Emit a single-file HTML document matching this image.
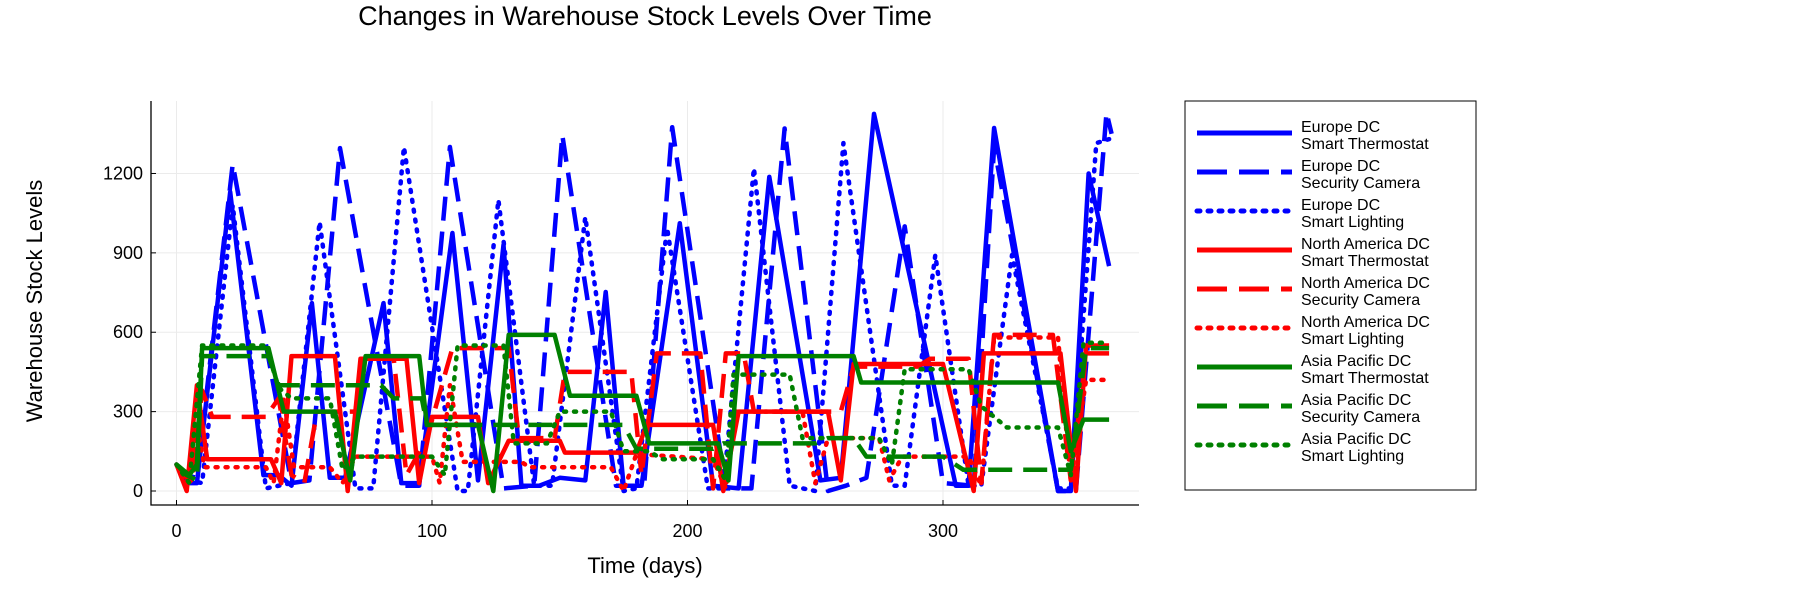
<!DOCTYPE html>
<html><head><meta charset="utf-8"><style>
body{margin:0;background:#fff;font-family:"Liberation Sans",sans-serif}
svg text{font-family:"Liberation Sans",sans-serif}
</style></head><body>
<svg id="chart" width="1800" height="600" xmlns="http://www.w3.org/2000/svg">
<text x="645" y="25" font-size="27" text-anchor="middle">Changes in Warehouse Stock Levels Over Time</text>
<g id="grid"></g>
<g id="axes"></g>
<g id="series"></g>
<g id="legend"></g>
<text x="645" y="573" font-size="22" text-anchor="middle">Time (days)</text>
<text x="0" y="0" font-size="22" text-anchor="middle" transform="translate(42,301) rotate(-90)">Warehouse Stock Levels</text>
</svg>
<script>
const xTicks=[0,100,200,300];
const yTicks=[0,300,600,900,1200];
const seriesNames=["Europe DC|Smart Thermostat","Europe DC|Security Camera","Europe DC|Smart Lighting","North America DC|Smart Thermostat","North America DC|Security Camera","North America DC|Smart Lighting","Asia Pacific DC|Smart Thermostat","Asia Pacific DC|Security Camera","Asia Pacific DC|Smart Lighting"];
const euThermo=[[0,100],[4,30],[8,30],[21,1130],[34,60],[40,60],[45,20],[53,710],[60,50],[66,50],[81,710],[88,30],[95,30],[108,975],[118,40],[128,930],[135,20],[142,20],[150,50],[160,40],[168,752],[175,20],[182,20],[197,1012],[210,20],[220,10],[232,1187],[252,40],[260,50],[273,1425],[305,20],[310,20],[320,1372],[345,0],[350,0],[357,1200],[365,850]];
const euCamera=[[0,100],[3,60],[8,50],[22,1235],[45,30],[52,40],[64,1296],[88,20],[95,20],[107,1300],[128,10],[140,20],[151,1345],[172,20],[183,20],[194,1375],[215,10],[225,10],[238,1370],[255,0],[262,20],[270,50],[285,1000],[300,30],[312,20],[320,1300],[345,0],[352,0],[364,1430],[366,1350]];
const euLight=[[0,100],[5,40],[10,30],[22,1080],[35,10],[45,30],[56,1017],[70,10],[77,10],[89,1300],[110,0],[114,0],[126,1100],[140,20],[147,20],[160,1035],[175,0],[180,10],[192,994],[208,10],[214,10],[226,1220],[240,20],[250,0],[261,1315],[280,20],[285,20],[297,892],[310,20],[315,20],[327,892],[345,10],[350,10],[360,1315],[365,1330]];
const naThermo=[[0,100],[4,0],[8,400],[12,120],[37,120],[41,30],[45,510],[62,510],[67,0],[72,500],[90,500],[95,30],[100,280],[118,280],[122,30],[130,190],[150,190],[152,145],[180,145],[184,250],[210,250],[214,0],[220,300],[255,300],[260,40],[265,480],[300,480],[312,0],[316,520],[346,520],[352,0],[356,550],[365,550]];
const naCamera=[[0,100],[3,60],[6,30],[10,380],[14,280],[35,280],[40,350],[45,60],[50,30],[55,300],[70,300],[73,500],[85,500],[90,60],[98,200],[108,540],[130,540],[134,200],[148,200],[152,450],[178,450],[182,60],[188,520],[205,520],[210,10],[215,520],[222,520],[226,300],[260,300],[265,470],[290,470],[295,500],[310,500],[315,30],[320,590],[343,590],[350,40],[356,520],[365,520]];
const naLight=[[0,100],[5,20],[8,250],[11,90],[35,90],[38,30],[42,350],[46,90],[60,90],[65,30],[70,130],[100,130],[103,30],[107,400],[112,110],[135,110],[138,90],[170,90],[175,0],[180,140],[210,120],[215,10],[219,300],[245,300],[250,30],[255,200],[275,200],[279,40],[284,130],[310,130],[315,20],[320,580],[345,580],[350,40],[356,420],[365,420]];
const apThermo=[[0,100],[5,60],[8,100],[10,540],[36,540],[42,300],[62,300],[68,40],[74,510],[95,510],[98,250],[118,250],[124,0],[130,590],[148,590],[154,360],[180,360],[185,180],[212,180],[216,40],[220,510],[265,510],[268,410],[345,410],[350,150],[355,270],[365,270]];
const apCamera=[[0,100],[4,60],[8,40],[10,510],[36,510],[40,400],[80,400],[85,350],[96,350],[98,250],[175,250],[180,160],[210,160],[214,180],[250,180],[255,200],[265,200],[270,130],[300,130],[308,80],[350,80],[356,540],[365,540]];
const apLight=[[0,100],[5,30],[10,550],[35,550],[40,390],[45,350],[60,350],[65,80],[70,130],[100,130],[105,60],[110,550],[128,550],[132,180],[145,180],[150,300],[170,300],[175,150],[185,150],[190,120],[210,120],[215,40],[218,440],[240,440],[245,200],[275,200],[280,100],[285,460],[310,460],[315,320],[325,240],[345,240],[350,60],[355,560],[365,560]];
const allSeries=[euThermo,euCamera,euLight,naThermo,naCamera,naLight,apThermo,apCamera,apLight];
const colors=["#0000ff","#0000ff","#0000ff","#ff0000","#ff0000","#ff0000","#008000","#008000","#008000"];
const dashes=["none","24,11","2,8","none","24,11","2,8","none","24,11","2,8"];
const X0=151,X1=1139,Y0=101,Y1=505;
function xs(d){return 176.5+d*2.555;}
function ys(v){return 491-v*0.2646;}
const NS="http://www.w3.org/2000/svg";
function mk(tag,attrs,parent){const e=document.createElementNS(NS,tag);for(const k in attrs)e.setAttribute(k,attrs[k]);parent.appendChild(e);return e;}
const grid=document.getElementById('grid'),axes=document.getElementById('axes'),ser=document.getElementById('series'),leg=document.getElementById('legend');
xTicks.forEach(t=>{
 const g=mk('line',{x1:xs(t),x2:xs(t),y1:Y0,y2:Y1,stroke:"#ebebeb","stroke-width":1},grid);
 
 
 const tk=mk('line',{x1:xs(t),x2:xs(t),y1:Y1,y2:Y1-5,stroke:"#000"},axes);
 
 
 const tx=mk('text',{x:xs(t),y:Y1+32,"font-size":18,"text-anchor":"middle"},axes);
 tx.textContent=t;
 
 
});
yTicks.forEach(t=>{
 const g=mk('line',{x1:X0,x2:X1,y1:ys(t),y2:ys(t),stroke:"#ebebeb","stroke-width":1},grid);
 
 
 const tk=mk('line',{x1:X0,x2:X0+5,y1:ys(t),y2:ys(t),stroke:"#000"},axes);
 
 
 const tx=mk('text',{x:X0-8,y:ys(t)+6,"font-size":18,"text-anchor":"end"},axes);
 tx.textContent=t;
 
 
});
const ax=mk('path',{d:`M${X0},${Y0}V${Y1}H${X1}`,fill:"none",stroke:"#000","stroke-width":1.3},axes);


allSeries.forEach((s,i)=>{
 const d=s.map((p,j)=>(j?'L':'M')+xs(p[0]).toFixed(1)+','+ys(p[1]).toFixed(1)).join('');
 const p=mk('path',{d:d,fill:"none",stroke:colors[i],"stroke-width":4.5,"stroke-dasharray":dashes[i],"stroke-linecap":dashes[i]=="2,8"?"round":"butt","stroke-linejoin":"round"},ser);
 
 
});
const box=mk('rect',{x:1185,y:101,width:291,height:389,fill:"#fff",stroke:"#000","stroke-width":1},leg);


seriesNames.forEach((n,i)=>{
 const y=124+i*39;
 const l=mk('line',{x1:1197,x2:1292,y1:y+9,y2:y+9,stroke:colors[i],"stroke-width":5,"stroke-dasharray":dashes[i]=="2,8"?"3,8":(dashes[i]=="none"?"none":"30,12"),"stroke-linecap":dashes[i]=="2,8"?"round":"butt"},leg);
 
 
 const parts=n.split('|');
 const t=mk('text',{x:1301,y:y+8,"font-size":16},leg);
 
 
 const a=mk('tspan',{x:1301,dy:0},t);a.textContent=parts[0];
 const b=mk('tspan',{x:1301,dy:17},t);b.textContent=parts[1];
});
</script>
</body></html>
